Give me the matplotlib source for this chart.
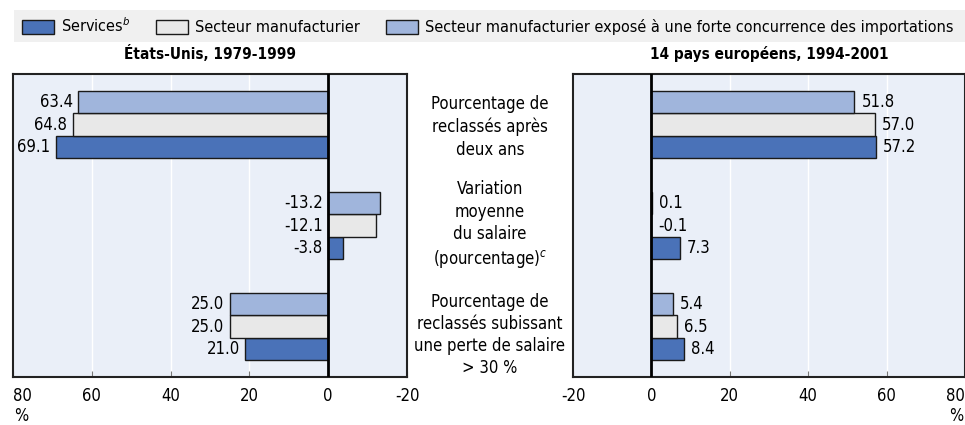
import matplotlib.pyplot as plt
from matplotlib.patches import Patch, Rectangle

# Données
groupes = ['Pourcentage de\nreclassés après\ndeux ans',
           'Variation\nmoyenne\ndu salaire\n(pourcentage)$^{c}$',
           'Pourcentage de\nreclassés subissant\nune perte de salaire\n> 30 %']
series = ['Services$^{b}$', 'Secteur manufacturier',
          'Secteur manufacturier exposé à une forte concurrence des importations']
titres = ['États-Unis, 1979-1999', '14 pays européens, 1994-2001']

us_services = [69.1, -3.8, 21.0]
us_manuf = [64.8, -12.1, 25.0]
us_import = [63.4, -13.2, 25.0]

eu_services = [57.2, 7.3, 8.4]
eu_manuf = [57.0, -0.1, 6.5]
eu_import = [51.8, 0.1, 5.4]

ticks = [-20, 0, 20, 40, 60, 80]

couleurs = ['#4a72b8', '#e8e8e8', '#a0b5dc']
fond = '#eaeff8'

plt.rcParams['font.family'] = ['DejaVu Sans']
plt.rcParams['font.stretch'] = 'condensed'
plt.rcParams['font.size'] = 12

W, H = 965, 425
fig = plt.figure(figsize=(W / 100, H / 100), dpi=100)


def fx(px):
    return px / W


def fy(py):
    return 1 - py / H


ax_us = fig.add_axes([fx(13), fy(377), fx(407) - fx(13), fy(74) - fy(377)])
ax_eu = fig.add_axes([fx(573), fy(377), fx(965) - fx(573), fy(74) - fy(377)])

h = 0.22
for ax, vals, cote in [(ax_us, [us_services, us_manuf, us_import], 'left'),
                       (ax_eu, [eu_services, eu_manuf, eu_import], 'right')]:
    ax.set_facecolor(fond)
    for k, (v, c) in enumerate(zip(vals, couleurs)):
        pos = [i + (1 - k) * h for i in range(len(v))]
        ax.barh(pos, v, height=h, color=c, edgecolor='#1a1a1a', linewidth=1, zorder=3)
        for p, val in zip(pos, v):
            if cote == 'left':
                ax.annotate(f'{val:.1f}', (max(val, 0), p), xytext=(-4, 0),
                            textcoords='offset points', ha='right', va='center')
            else:
                ax.annotate(f'{val:.1f}', (max(val, 0), p), xytext=(5, 0),
                            textcoords='offset points', ha='left', va='center')
    ax.set_ylim(2.5, -0.5)
    ax.set_yticks([])
    ax.set_xticks(ticks)
    ax.set_xticklabels([str(t) for t in ticks])
    ax.grid(axis='x', color='white', linewidth=1, zorder=0)
    ax.axvline(0, color='black', linewidth=2, zorder=4)
    ax.tick_params(axis='x', direction='in', length=4, color='#777777', pad=7)
    for s in ax.spines.values():
        s.set_color('#222222')
        s.set_linewidth(1.5)

ax_us.set_xlim(80, -20)
ax_eu.set_xlim(-20, 80)
ax_us.get_xticklabels()[-1].set_horizontalalignment('left')
ax_eu.get_xticklabels()[-1].set_horizontalalignment('right')

ax_us.set_title(titres[0], fontweight='bold', fontsize=11, pad=11)
ax_eu.set_title(titres[1], fontweight='bold', fontsize=11, pad=11)

# libellés du milieu
for txt, yc in zip(groupes, [127, 225, 335]):
    fig.text(fx(490), fy(yc), txt, ha='center', va='center', linespacing=1.3)

fig.text(fx(14), fy(416), '%', ha='left', va='center')
fig.text(fx(963), fy(416), '%', ha='right', va='center')

# bandeau de légende
fig.patches.append(Rectangle((fx(14), fy(42)), fx(965) - fx(14), fy(10) - fy(42),
                             transform=fig.transFigure, facecolor='#f0f0f0',
                             edgecolor='none', zorder=0))
poignees = [Patch(facecolor=c, edgecolor='#1a1a1a', linewidth=1) for c in couleurs]
fig.legend(poignees, series, loc='center left', bbox_to_anchor=(fx(22), fy(26)),
           ncol=3, frameon=False, borderpad=0, borderaxespad=0, fontsize=11.6,
           handlelength=2.0, handleheight=1.0, handletextpad=0.43,
           columnspacing=1.6)

fig.savefig('out.png', dpi=100)
